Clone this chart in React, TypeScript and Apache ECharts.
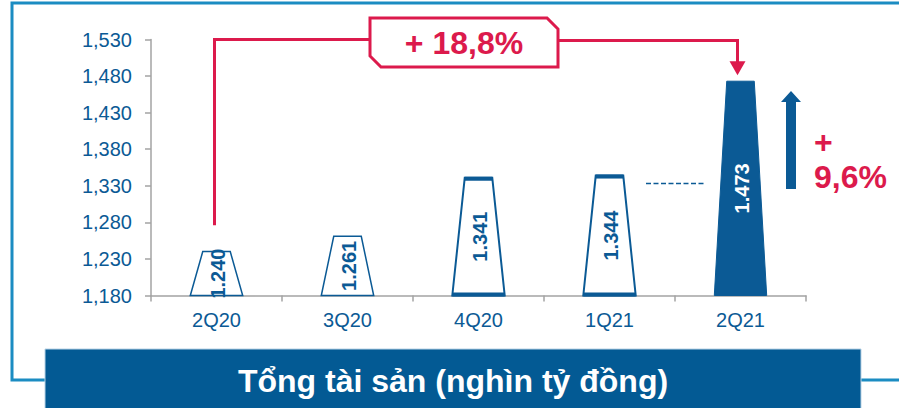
import React, { useEffect, useRef } from "react";
import * as echarts from "echarts";

const categories = ["2Q20", "3Q20", "4Q20", "1Q21", "2Q21"];
const totalAssets = [1240, 1261, 1341, 1344, 1473];
const yMin = 1180;
const yMax = 1530;
const yStep = 50;
const yoyGrowthText = "+ 18,8%";
const qoqGrowthText = ["+", "9,6%"];
const chartTitle = "Tổng tài sản (nghìn tỷ đồng)";

const BLUE = "#0b5a95";
const RED = "#dc1a4c";
const BORDER = "#1b8cc2";
const FONT = "'Liberation Sans', Arial, Helvetica, sans-serif";

export default function App() {
  const ref = useRef<HTMLDivElement>(null);
  useEffect(() => {
    if (!ref.current) return;
    const chart = echarts.init(ref.current, null, { renderer: "svg" });
    const last = totalAssets.length - 1;
    chart.setOption({
      animation: false,
      grid: {
        left: 151,
        right: 93,
        top: 39.5,
        bottom: 112.5,
        containLabel: false,
        outerBoundsMode: "none",
      },
      xAxis: {
        type: "category",
        data: categories,
        boundaryGap: true,
        axisLine: { show: true, lineStyle: { color: "#a3a3a3", width: 1.5 } },
        axisTick: { show: true, length: 6, lineStyle: { color: "#a3a3a3", width: 1.5 } },
        axisLabel: { color: BLUE, fontSize: 20, fontFamily: FONT, margin: 14 },
      },
      yAxis: {
        type: "value",
        min: yMin,
        max: yMax,
        interval: yStep,
        axisLine: { show: true, lineStyle: { color: "#a3a3a3", width: 1.5 } },
        axisTick: { show: true, length: 6, lineStyle: { color: "#a3a3a3", width: 1.5 } },
        splitLine: { show: false },
        axisLabel: {
          color: BLUE,
          fontSize: 20,
          fontFamily: FONT,
          margin: 19,
          formatter: (v: number) => v.toLocaleString("en-US"),
        },
      },
      series: [
        {
          type: "custom",
          data: totalAssets.map((v, i) => [i, v]),
          encode: { x: 0, y: 1 },
          z: 3,
          renderItem: (params: any, api: any) => {
            const idx = params.dataIndex;
            const i = api.value(0);
            const v = api.value(1);
            const base = api.coord([i, yMin]);
            const top = api.coord([i, v]);
            const band = api.size([1, 0])[0];
            const bw = band * 0.2;
            const tw = band * 0.105;
            const cx = top[0];
            const filled = idx === last;
            const caps = idx === 2 || idx === 3;
            const children: any[] = [
              {
                type: "polygon",
                shape: {
                  points: [
                    [cx - bw, base[1]],
                    [cx - tw, top[1]],
                    [cx + tw, top[1]],
                    [cx + bw, base[1]],
                  ],
                },
                style: {
                  fill: filled ? BLUE : "#ffffff",
                  stroke: BLUE,
                  lineWidth: filled ? 1 : caps ? 2 : 1.5,
                },
              },
            ];
            if (caps) {
              children.push({
                type: "line",
                shape: { x1: cx - tw, y1: top[1] + 1, x2: cx + tw, y2: top[1] + 1 },
                style: { stroke: BLUE, lineWidth: 4 },
              });
              children.push({
                type: "line",
                shape: { x1: cx - bw, y1: base[1] - 1, x2: cx + bw, y2: base[1] - 1 },
                style: { stroke: BLUE, lineWidth: 4 },
              });
            }
            children.push({
              type: "text",
              x: cx + 1,
              y: (base[1] + top[1]) / 2,
              rotation: Math.PI / 2,
              style: {
                text: (v / 1000).toFixed(3),
                fill: filled ? "#ffffff" : BLUE,
                font: `bold 20px ${FONT}`,
                align: "center",
                verticalAlign: "middle",
              },
            });
            return { type: "group", children };
          },
        },
      ],
    });

    const p0 = chart.convertToPixel({ xAxisIndex: 0, yAxisIndex: 0 }, [categories[0], 1276]);
    const pTop = chart.convertToPixel({ xAxisIndex: 0, yAxisIndex: 0 }, [categories[0], yMax]);
    const pLast = chart.convertToPixel({ xAxisIndex: 0, yAxisIndex: 0 }, [categories[last], totalAssets[last]]);
    const lx = p0[0] - 2;
    const ly = pTop[1];
    const rx = pLast[0] - 3;
    const tipY = pLast[1] - 6;

    chart.setOption({
      graphic: [
        {
          type: "polyline",
          z: 1,
          shape: { points: [[910, 3], [12, 3], [12, 380], [910, 380]] },
          style: { stroke: BORDER, lineWidth: 3, fill: null },
        },
        {
          type: "rect",
          z: 5,
          shape: { x: 45, y: 349, width: 816, height: 70 },
          style: { fill: "#035a94", stroke: "#b9d3e6", lineWidth: 1 },
        },
        {
          type: "text",
          z: 6,
          x: 453,
          y: 381,
          style: {
            text: chartTitle,
            fill: "#ffffff",
            font: `bold 32px ${FONT}`,
            align: "center",
            verticalAlign: "middle",
          },
        },
        {
          type: "polyline",
          z: 5,
          shape: { points: [[lx, p0[1]], [lx, ly], [370, ly]] },
          style: { stroke: RED, lineWidth: 3, fill: null },
        },
        {
          type: "polygon",
          z: 5,
          shape: {
            points: [[370, 18], [547, 18], [558, 29], [558, 67], [381, 67], [370, 56]],
          },
          style: { fill: "#ffffff", stroke: RED, lineWidth: 3 },
        },
        {
          type: "text",
          z: 6,
          x: 464,
          y: 43,
          style: {
            text: yoyGrowthText,
            fill: RED,
            font: `bold 32px ${FONT}`,
            align: "center",
            verticalAlign: "middle",
          },
        },
        {
          type: "polyline",
          z: 5,
          shape: { points: [[558, ly + 1], [rx, ly + 1], [rx, tipY - 12]] },
          style: { stroke: RED, lineWidth: 3, fill: null },
        },
        {
          type: "polygon",
          z: 5,
          shape: { points: [[rx - 8, tipY - 14], [rx + 8, tipY - 14], [rx, tipY]] },
          style: { fill: RED },
        },
        {
          type: "polygon",
          z: 5,
          shape: {
            points: [
              [786, 189],
              [786, 102],
              [781, 102],
              [791, 91],
              [801, 102],
              [796, 102],
              [796, 189],
            ],
          },
          style: { fill: BLUE },
        },
        {
          type: "text",
          z: 6,
          x: 814,
          y: 142,
          style: {
            text: qoqGrowthText[0],
            fill: RED,
            font: `bold 32px ${FONT}`,
            align: "left",
            verticalAlign: "middle",
          },
        },
        {
          type: "text",
          z: 6,
          x: 814,
          y: 177,
          style: {
            text: qoqGrowthText[1],
            fill: RED,
            font: `bold 32px ${FONT}`,
            align: "left",
            verticalAlign: "middle",
          },
        },
        {
          type: "line",
          z: 5,
          shape: { x1: 646, y1: 183.5, x2: 705, y2: 183.5 },
          style: { stroke: BLUE, lineWidth: 1.5, lineDash: [5, 2.5] },
        },
      ],
    });

    return () => chart.dispose();
  }, []);

  return (
    <div
      ref={ref}
      style={{ position: "fixed", left: 0, top: 0, width: 899, height: 408, background: "#ffffff" }}
    />
  );
}
